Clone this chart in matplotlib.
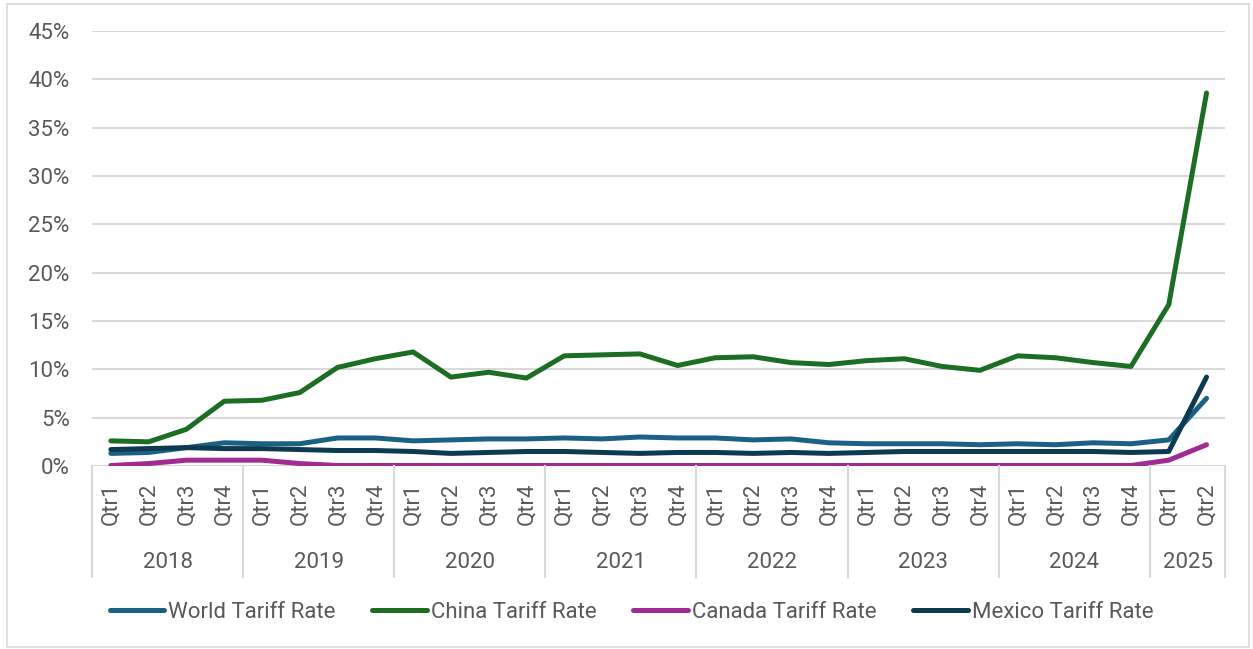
import matplotlib
matplotlib.use("Agg")
import matplotlib.pyplot as plt
from matplotlib.patches import Rectangle
from matplotlib.ticker import FuncFormatter, MultipleLocator

years = ["2018", "2019", "2020", "2021", "2022", "2023", "2024", "2025"]
quarters_per_year = [4, 4, 4, 4, 4, 4, 4, 2]
quarter_labels = [f"Qtr{q + 1}" for n in quarters_per_year for q in range(n)]

world = [1.3, 1.4, 1.9, 2.4, 2.3, 2.3, 2.9, 2.9,
         2.6, 2.7, 2.8, 2.8, 2.9, 2.8, 3.0, 2.9,
         2.9, 2.7, 2.8, 2.4, 2.3, 2.3, 2.3, 2.2,
         2.3, 2.2, 2.4, 2.3, 2.7, 7.0]
china = [2.6, 2.5, 3.8, 6.7, 6.8, 7.6, 10.2, 11.1,
         11.8, 9.2, 9.7, 9.1, 11.4, 11.5, 11.6, 10.4,
         11.2, 11.3, 10.7, 10.5, 10.9, 11.1, 10.3, 9.9,
         11.4, 11.2, 10.7, 10.3, 16.7, 38.6]
canada = [0.05, 0.25, 0.6, 0.6, 0.6, 0.25, 0.05, 0.05,
          0.05, 0.05, 0.05, 0.05, 0.05, 0.05, 0.05, 0.05,
          0.05, 0.05, 0.05, 0.05, 0.05, 0.05, 0.05, 0.05,
          0.05, 0.05, 0.05, 0.05, 0.6, 2.2]
mexico = [1.7, 1.8, 1.9, 1.8, 1.8, 1.7, 1.6, 1.6,
          1.5, 1.3, 1.4, 1.5, 1.5, 1.4, 1.3, 1.4,
          1.4, 1.3, 1.4, 1.3, 1.4, 1.5, 1.5, 1.5,
          1.5, 1.5, 1.5, 1.4, 1.5, 9.2]

series = [
    ("World Tariff Rate", world, "#1b6184"),
    ("China Tariff Rate", china, "#1d6e24"),
    ("Canada Tariff Rate", canada, "#a02b93"),
    ("Mexico Tariff Rate", mexico, "#0e3a50"),
]

plt.rcParams["font.family"] = ["Roboto", "DejaVu Sans"]
text_color = "#595959"
grid_color = "#d9d9d9"
fs = 16

fig = plt.figure(figsize=(12.53, 6.49), dpi=100)
ax = fig.add_axes([0.0734, 0.282, 0.9046, 0.670])

x = list(range(len(quarter_labels)))
for name, vals, color in series:
    ax.plot(x, vals, color=color, lw=3.6, label=name,
            solid_capstyle="round", solid_joinstyle="round")

ax.set_xlim(-0.5, len(x) - 0.5)
ax.set_ylim(0, 45)
ax.yaxis.set_major_locator(MultipleLocator(5))
ax.yaxis.set_major_formatter(FuncFormatter(lambda v, p: f"{v:.0f}%"))
ax.grid(axis="y", color=grid_color, lw=1.5)
ax.set_axisbelow(True)
for s in ax.spines.values():
    s.set_visible(False)

ax.tick_params(axis="y", length=0, labelsize=fs, labelcolor=text_color, pad=16)
ax.set_xticks(x)
ax.set_xticklabels(quarter_labels, rotation=90, fontsize=fs, color=text_color)
ax.tick_params(axis="x", length=0, pad=12)

# Year group separators and labels below the quarter labels
trans = ax.get_xaxis_transform()
start = -0.5
bounds = [start]
for yr, n in zip(years, quarters_per_year):
    end = start + n
    ax.text((start + end) / 2, -0.222, yr, transform=trans, ha="center",
            va="center", fontsize=fs, color=text_color)
    bounds.append(end)
    start = end
for b in bounds:
    ax.plot([b, b], [0, -0.255], transform=trans, color=grid_color,
            lw=1.5, clip_on=False)

leg = fig.legend(loc="center", bbox_to_anchor=(0.504, 0.057), ncol=4,
                 frameon=False, fontsize=fs, handlelength=2.45,
                 handletextpad=0.18, columnspacing=1.65)
for t in leg.get_texts():
    t.set_color(text_color)
for h in leg.legend_handles:
    h.set_solid_capstyle("round")

fig.patches.append(Rectangle((0.0056, 0.003), 0.9912, 0.991,
                             transform=fig.transFigure, fill=False,
                             edgecolor=grid_color, lw=1.2))

fig.savefig("out.png", dpi=100)
